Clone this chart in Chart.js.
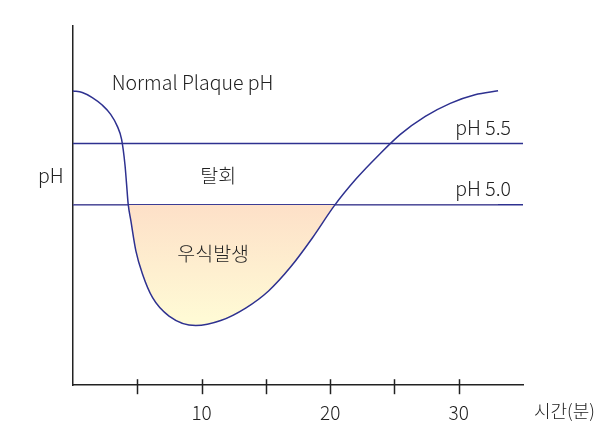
<!DOCTYPE html>
<html>
<head>
<meta charset="utf-8">
<script src="https://cdn.jsdelivr.net/npm/chart.js@4/dist/chart.umd.min.js"></script>
<style>
  html, body { margin: 0; padding: 0; background: #fff; }
  #wrap { width: 598px; height: 447px; }
</style>
</head>
<body>
<div id="wrap"><canvas id="phChart" width="598" height="447"></canvas></div>
<script>
// time (min) and plaque pH
const timeMin = [0, 0.72, 1.5, 2.27, 2.93, 3.44, 3.78, 4.04, 4.17, 4.29,
    4.5, 4.89, 5.41, 6.19, 7.47, 9.55, 11.49, 13.43, 15.21, 16.92, 18.63, 20.33,
    22.04, 23.75, 25.46, 27.4, 29.34, 31.27, 33.06];
const plaquePH = [5.93, 5.916, 5.875, 5.814, 5.738, 5.642, 5.533, 5.328, 5.164, 5.006,
    4.869, 4.623, 4.432, 4.24, 4.09, 4.012, 4.053, 4.155, 4.295, 4.49, 4.73, 4.992,
    5.213, 5.402, 5.574, 5.721, 5.828, 5.898, 5.93];
const criticalLevels = [5.5, 5.0];
const levelLabels = ['pH 5.5', 'pH 5.0'];
const xTicks = [5, 10, 15, 20, 25, 30];

const FONT = '"Noto Sans CJK KR", "Noto Sans", sans-serif';
const NAVY = '#2e3190';
const INK = '#222';

const curveData = timeMin.map((t, i) => ({ x: t, y: plaquePH[i] }));

const levelSets = criticalLevels.map(v => ({
    data: [{ x: 0, y: v }, { x: 35, y: v }],
    borderColor: NAVY,
    borderWidth: 1.5,
    pointRadius: 0,
    fill: false
}));

function cariesGradient(context) {
    const chart = context.chart;
    const area = chart.chartArea;
    if (!area) return null;
    const y = chart.scales.y;
    const g = chart.ctx.createLinearGradient(0, y.getPixelForValue(5.0), 0, y.getPixelForValue(4.0));
    g.addColorStop(0, '#fde0c8');
    g.addColorStop(1, '#fffcd6');
    return g;
}

// tick marks crossing the x axis, and the text labels
const decorations = {
    id: 'decorations',
    afterDraw(chart) {
        const { ctx, scales } = chart;
        const xs = scales.x, ys = scales.y;
        const axisY = ys.bottom;
        ctx.save();
        ctx.strokeStyle = INK;
        ctx.lineWidth = 1.5;
        xTicks.forEach(t => {
            const px = Math.round(xs.getPixelForValue(t)) + 0.5;
            ctx.beginPath();
            ctx.moveTo(px, axisY - 6);
            ctx.lineTo(px, axisY + 9);
            ctx.stroke();
        });

        ctx.fillStyle = INK;
        ctx.font = '300 19.5px ' + FONT;
        ctx.textBaseline = 'middle';

        ctx.textAlign = 'center';
        ctx.fillText('Normal Plaque pH', xs.getPixelForValue(9.3), ys.getPixelForValue(6.0));
        ctx.fillText('탈회', xs.getPixelForValue(11.3), ys.getPixelForValue(5.24));
        ctx.fillText('우식발생', xs.getPixelForValue(10.9), ys.getPixelForValue(4.6));

        ctx.textAlign = 'right';
        levelLabels.forEach((lbl, i) => {
            ctx.fillText(lbl, xs.right - 12, ys.getPixelForValue(criticalLevels[i]) - 16);
        });

        ctx.textAlign = 'left';
        ctx.fillText('pH', 38, ys.getPixelForValue(5.24));
        ctx.font = '300 18px ' + FONT;
        ctx.fillText('시간(분)', xs.right + 11, axisY + 26);
        ctx.restore();
    }
};

const ctx = document.getElementById('phChart').getContext('2d');
new Chart(ctx, {
    type: 'line',
    data: {
        datasets: [{
            data: curveData,
            borderColor: NAVY,
            borderWidth: 1.5,
            pointRadius: 0,
            cubicInterpolationMode: 'monotone',
            backgroundColor: cariesGradient,
            fill: { target: { value: 5.0 }, above: 'rgba(0,0,0,0)' }
        }, ...levelSets]
    },
    options: {
        responsive: false,
        animation: false,
        events: [],
        layout: { padding: { left: 73, right: 75, top: 26, bottom: 7 } },
        plugins: { legend: { display: false }, tooltip: { enabled: false } },
        scales: {
            x: {
                type: 'linear',
                min: 0,
                max: 35,
                grid: { display: false, drawTicks: false },
                border: { display: true, color: INK, width: 1.5 },
                ticks: {
                    stepSize: 5,
                    padding: 16,
                    color: INK,
                    font: { family: FONT, size: 19, weight: '300' },
                    maxRotation: 0,
                    autoSkip: false,
                    callback: v => (v % 10 === 0 && v > 0 && v < 35) ? v : ''
                }
            },
            y: {
                min: 3.525,
                max: 6.46,
                grid: { display: false, drawTicks: false },
                border: { display: true, color: INK, width: 1.5 },
                ticks: { display: false }
            }
        }
    },
    plugins: [decorations]
});
</script>
</body>
</html>
